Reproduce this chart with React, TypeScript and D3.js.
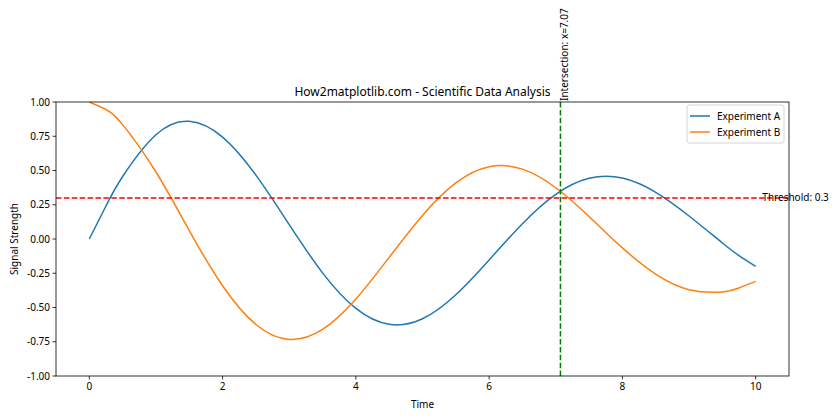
import React from "react";
import * as d3 from "d3";

const xValues = [0, 0.25, 0.5, 1, 1.5, 2, 2.5, 3, 3.5, 4, 4.5, 5, 5.5, 6, 6.5, 7, 7.5, 8, 8.5, 9, 9.5, 9.75, 10];
const seriesA = [0, 0.241, 0.456, 0.761, 0.859, 0.744, 0.466, 0.105, -0.247, -0.507, -0.623, -0.582, -0.407, -0.153, 0.112, 0.326, 0.443, 0.445, 0.341, 0.168, -0.029, -0.121, -0.2];
const seriesB = [1, 0.945, 0.835, 0.489, 0.061, -0.341, -0.624, -0.733, -0.66, -0.438, -0.134, 0.172, 0.409, 0.527, 0.51, 0.374, 0.164, -0.065, -0.257, -0.37, -0.386, -0.357, -0.309];
const seriesNames = ["Experiment A", "Experiment B"];
const xTicks = [0, 2, 4, 6, 8, 10];
const yTicks = [-1, -0.75, -0.5, -0.25, 0, 0.25, 0.5, 0.75, 1];
const threshold = 0.3;
const intersectionX = 7.07;
const title = "How2matplotlib.com - Scientific Data Analysis";

const W = 840, H = 420;
const L = 56, R = 789, T = 102, B = 376;
const FONT = "'Noto Sans', 'DejaVu Sans', sans-serif";

export default function App() {
  const x = d3.scaleLinear().domain([-0.5, 10.5]).range([L, R]);
  const y = d3.scaleLinear().domain([-1, 1]).range([B, T]);
  const line = d3.line<number>().x((_, i) => x(xValues[i])).y((d) => y(d)).curve(d3.curveNatural);
  const colors = ["#1f77b4", "#ff7f0e"];
  const series = [seriesA, seriesB];
  return (
    <svg width={W} height={H} style={{ position: "absolute", left: 0, top: 0, background: "#fff" }} fontFamily={FONT}>
      <rect x={0} y={0} width={W} height={H} fill="#fff" />
      <defs>
        <clipPath id="clip">
          <rect x={L} y={T} width={R - L} height={B - T} />
        </clipPath>
      </defs>
      <g clipPath="url(#clip)">
        {series.map((s, i) => (
          <path key={i} d={line(s) || ""} fill="none" stroke={colors[i]} strokeWidth={1.5} />
        ))}
        <line x1={L} x2={R} y1={y(threshold)} y2={y(threshold)} stroke="red" strokeWidth={1.5} strokeDasharray="5.5,2.4" />
        <line x1={x(intersectionX)} x2={x(intersectionX)} y1={T} y2={B} stroke="green" strokeWidth={1.5} strokeDasharray="5.5,2.4" />
      </g>
      <rect x={L} y={T} width={R - L} height={B - T} fill="none" stroke="#000" strokeWidth={0.8} />
      {xTicks.map((t) => (
        <g key={t}>
          <line x1={x(t)} x2={x(t)} y1={B} y2={B + 3.5} stroke="#000" strokeWidth={0.8} />
          <text x={x(t)} y={B + 14} textAnchor="middle" fontSize={10}>{t}</text>
        </g>
      ))}
      {yTicks.map((t) => (
        <g key={t}>
          <line x1={L - 3.5} x2={L} y1={y(t)} y2={y(t)} stroke="#000" strokeWidth={0.8} />
          <text x={L - 6} y={y(t) + 3.5} textAnchor="end" fontSize={10}>{t.toFixed(2)}</text>
        </g>
      ))}
      <text x={(L + R) / 2} y={B + 32} textAnchor="middle" fontSize={10}>Time</text>
      <text transform={`translate(${L - 38},${(T + B) / 2}) rotate(-90)`} textAnchor="middle" fontSize={10}>Signal Strength</text>
      <text x={(L + R) / 2} y={T - 6} textAnchor="middle" fontSize={12}>{title}</text>
      <text transform={`translate(${x(intersectionX) + 8},${T - 1}) rotate(-90)`} textAnchor="start" fontSize={10}>{`Intersection: x=${intersectionX}`}</text>
      <text x={x(10.1)} y={y(threshold) + 3.5} fontSize={10}>{`Threshold: ${threshold}`}</text>
      <g>
        <rect x={687} y={105} width={97} height={38} rx={2} fill="#fff" fillOpacity={0.8} stroke="#ccc" strokeWidth={0.8} />
        {seriesNames.map((n, i) => (
          <g key={n}>
            <line x1={690} x2={710} y1={116 + i * 16} y2={116 + i * 16} stroke={colors[i]} strokeWidth={1.5} />
            <text x={717} y={119.5 + i * 16} fontSize={10}>{n}</text>
          </g>
        ))}
      </g>
    </svg>
  );
}
